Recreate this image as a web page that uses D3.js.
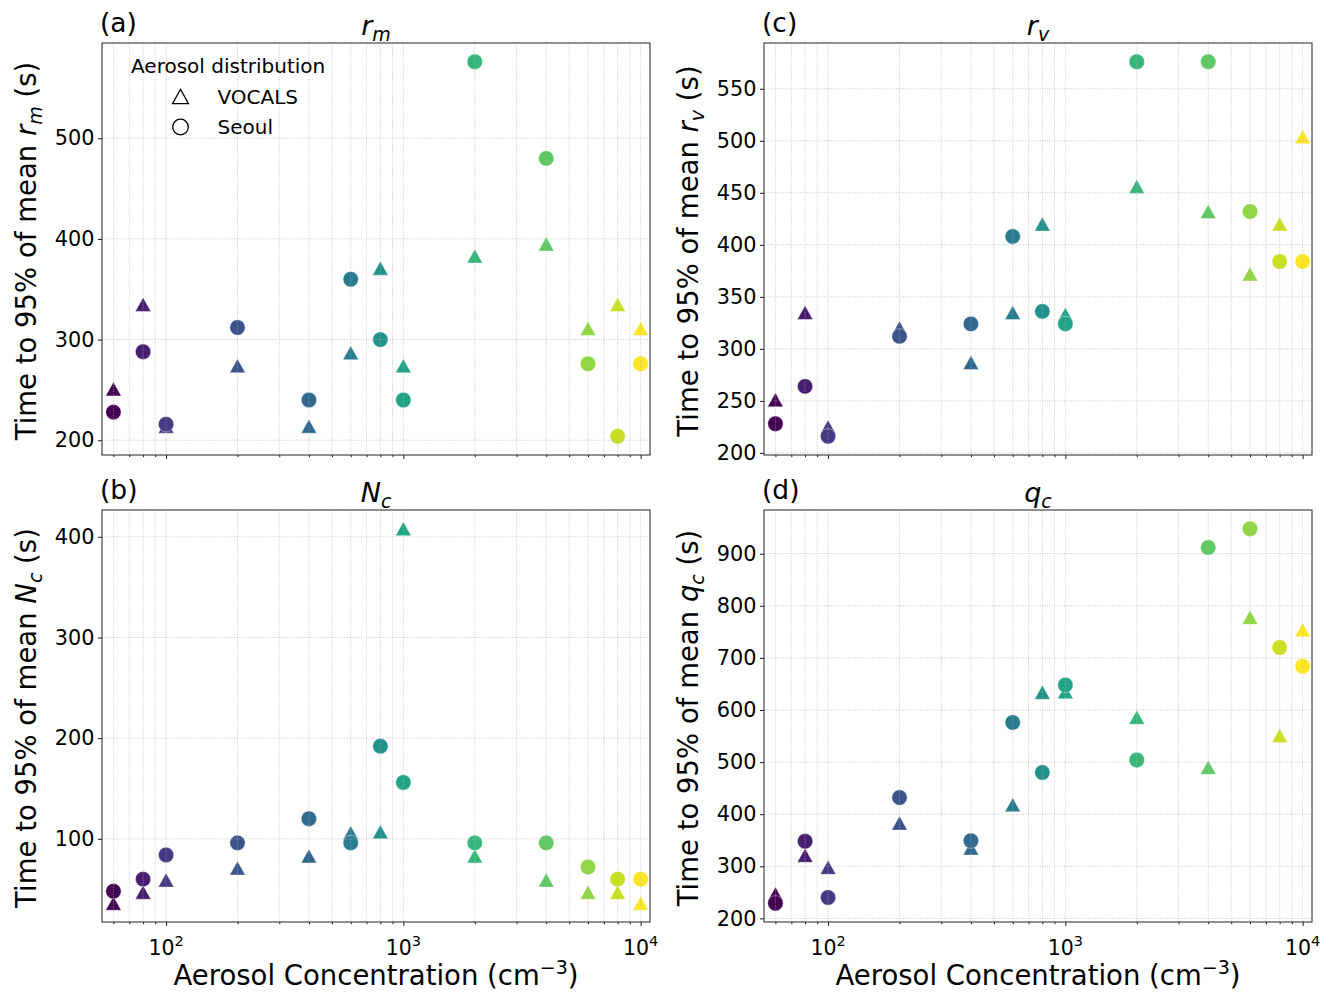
<!DOCTYPE html>
<html><head><meta charset="utf-8">
<script src="https://cdn.jsdelivr.net/npm/d3@7"></script>
<style>
body{margin:0;background:#fff;}
svg text{font-family:"DejaVu Sans",sans-serif;fill:#000;}
</style></head><body>
<svg id="chart" width="1338" height="997"></svg>
<script>
// ---------------- data ----------------
const concentrations = [60, 80, 100, 200, 400, 600, 800, 1000, 2000, 4000, 6000, 8000, 10000];

const rmVocals = [251, 335, 214, 274, 214, 287, 371, 274, 383, 395, 311, 335, 311];
const rmSeoul  = [228, 288, 216, 312, 240, 360, 300, 240, 576, 480, 276, 204, 276];

const ncVocals = [36, 47, 59, 71, 83, 106, 107, 408, 83, 59, 47, 47, 36];
const ncSeoul  = [48, 60, 84, 96, 120, 96, 192, 156, 96, 96, 72, 60, 60];

const rvVocals = [251, 335, 225, 320, 287, 335, 420, 333, 456, 432, 372, 420, 504];
const rvSeoul  = [228, 264, 216, 312, 324, 408, 336, 324, 576, 576, 432, 384, 384];

const qcVocals = [247, 321, 298, 383, 335, 418, 634, 635, 586, 490, 778, 551, 754];
const qcSeoul  = [229, 348, 240, 432, 349, 576, 480, 648, 504, 912, 948, 720, 684];

const yTicksA = [200, 300, 400, 500];
const yTicksB = [100, 200, 300, 400];
const yTicksC = [200, 250, 300, 350, 400, 450, 500, 550];
const yTicksD = [200, 300, 400, 500, 600, 700, 800, 900];
const xMajorTicks = [100, 1000, 10000];
const xDomain = [53.7, 10950];

const seriesNames = ["VOCALS", "Seoul"];
const legendTitle = "Aerosol distribution";
const xLabelMain = "Aerosol Concentration (cm";
const yLabelMain = "Time to 95% of mean ";

// ---------------- layout ----------------
const W = 548, H = 412;
const panels = [
  {label: "(a)", sym: "r", sub: "m", vocals: rmVocals, seoul: rmSeoul, yTicks: yTicksA, left: 102, top: 43, legend: true, xlab: false},
  {label: "(b)", sym: "N", sub: "c", vocals: ncVocals, seoul: ncSeoul, yTicks: yTicksB, left: 102, top: 510, legend: false, xlab: true},
  {label: "(c)", sym: "r", sub: "v", vocals: rvVocals, seoul: rvSeoul, yTicks: yTicksC, left: 764, top: 43, legend: false, xlab: false},
  {label: "(d)", sym: "q", sub: "c", vocals: qcVocals, seoul: qcSeoul, yTicks: yTicksD, left: 764, top: 510, legend: false, xlab: true}
];

const color = i => d3.interpolateViridis(i / (concentrations.length - 1));
const triPath = (h, hh) => `M0,${-hh}L${h},${hh}L${-h},${hh}Z`;

const svg = d3.select("#chart");
svg.append("rect").attr("width", 1338).attr("height", 997).attr("fill", "#fff");

panels.forEach(p => {
  const g = svg.append("g").attr("transform", `translate(${p.left},${p.top})`);
  const x = d3.scaleLog().domain(xDomain).range([0, W]);
  const all = p.vocals.concat(p.seoul);
  const lo = d3.min(all), hi = d3.max(all), pad = (hi - lo) * 0.05;
  const y = d3.scaleLinear().domain([lo - pad, hi + pad]).range([H, 0]);

  // markers: VOCALS triangles, then Seoul circles
  g.append("g").selectAll("path").data(concentrations).join("path")
    .attr("d", triPath(7.8, 7.0))
    .attr("transform", (d, i) => `translate(${x(d)},${y(p.vocals[i])})`)
    .attr("fill", (d, i) => color(i))
    .attr("stroke", "#fff").attr("stroke-width", 0.6).attr("stroke-opacity", 0.7);
  g.append("g").selectAll("circle").data(concentrations).join("circle")
    .attr("cx", d => x(d))
    .attr("cy", (d, i) => y(p.seoul[i]))
    .attr("r", 7.7)
    .attr("fill", (d, i) => color(i))
    .attr("stroke", "#fff").attr("stroke-width", 0.6).attr("stroke-opacity", 0.7);

  // grid (drawn above markers as in the reference)
  const allX = x.ticks();
  const grid = g.append("g").attr("stroke", "#b0b0b0").attr("stroke-width", 0.8)
    .attr("stroke-dasharray", "0.9,1.5").attr("opacity", 0.9);
  grid.selectAll("line.gx").data(allX).join("line").attr("class", "gx")
    .attr("x1", d => x(d)).attr("x2", d => x(d)).attr("y1", 0).attr("y2", H);
  grid.selectAll("line.gy").data(p.yTicks).join("line").attr("class", "gy")
    .attr("x1", 0).attr("x2", W).attr("y1", d => y(d)).attr("y2", d => y(d));

  // x axis ticks
  const minorX = allX.filter(d => !xMajorTicks.includes(d));
  const xAxisMaj = g.append("g").attr("transform", `translate(0,${H})`)
    .call(d3.axisBottom(x).tickValues(xMajorTicks).tickSize(4).tickFormat(() => ""));
  g.append("g").attr("transform", `translate(0,${H})`)
    .call(d3.axisBottom(x).tickValues(minorX).tickSize(2.2).tickFormat(() => ""));
  g.selectAll(".domain").remove();
  xAxisMaj.selectAll(".tick text").remove();
  if (p.xlab) {
    const xl = g.append("g");
    xMajorTicks.forEach(v => {
      const t = xl.append("text").attr("x", x(v)).attr("y", H + 33)
        .attr("text-anchor", "middle").attr("font-size", 20.5);
      t.append("tspan").text("10");
      t.append("tspan").attr("font-size", 14.5).attr("dy", -9).text(String(Math.round(Math.log10(v))));
    });
  }

  // y axis
  const yAxis = g.append("g")
    .call(d3.axisLeft(y).tickValues(p.yTicks).tickSize(4).tickPadding(3.5).tickFormat(d3.format("d")));
  yAxis.select(".domain").remove();
  yAxis.selectAll(".tick text").attr("font-size", 20.8).attr("font-family", "DejaVu Sans").attr("fill", "#000");
  g.selectAll(".tick line").attr("stroke", "#000").attr("stroke-width", 0.9);

  // frame
  g.append("rect").attr("x", 0).attr("y", 0).attr("width", W).attr("height", H)
    .attr("fill", "none").attr("stroke", "#222").attr("stroke-width", 1);

  // panel label and title
  g.append("text").attr("x", -2).attr("y", -11).attr("font-size", 26.5).text(p.label);
  const tt = g.append("text").attr("x", W / 2).attr("y", -8).attr("text-anchor", "middle").attr("font-size", 27);
  tt.append("tspan").attr("font-style", "italic").text(p.sym);
  tt.append("tspan").attr("font-style", "italic").attr("font-size", 19).attr("dy", 6).text(p.sub);

  // y label
  const yl = g.append("text").attr("transform", `translate(-66,${H / 2 + 2}) rotate(-90)`)
    .attr("text-anchor", "middle").attr("font-size", 27.5);
  yl.append("tspan").text(yLabelMain);
  yl.append("tspan").attr("font-style", "italic").text(p.sym);
  yl.append("tspan").attr("font-style", "italic").attr("font-size", 19).attr("dy", 6).text(p.sub);
  yl.append("tspan").attr("dy", -6).text(" (s)");

  // x label
  if (p.xlab) {
    const xt = g.append("text").attr("x", W / 2).attr("y", H + 63).attr("text-anchor", "middle").attr("font-size", 27.5);
    xt.append("tspan").text(xLabelMain);
    xt.append("tspan").attr("font-size", 19).attr("dy", -11).text("\u22123");
    xt.append("tspan").attr("dy", 11).text(")");
  }

  // legend
  if (p.legend) {
    const lg = g.append("g");
    lg.append("text").attr("x", 29).attr("y", 30).attr("font-size", 20).text(legendTitle);
    lg.append("path").attr("d", triPath(8, 7.2)).attr("transform", "translate(78.5,53.5)")
      .attr("fill", "none").attr("stroke", "#000").attr("stroke-width", 1.3);
    lg.append("text").attr("x", 115.5).attr("y", 61).attr("font-size", 20).text(seriesNames[0]);
    lg.append("circle").attr("cx", 78.5).attr("cy", 84).attr("r", 7.8)
      .attr("fill", "none").attr("stroke", "#000").attr("stroke-width", 1.3);
    lg.append("text").attr("x", 115.5).attr("y", 91).attr("font-size", 20).text(seriesNames[1]);
  }
});
</script>
</body></html>
